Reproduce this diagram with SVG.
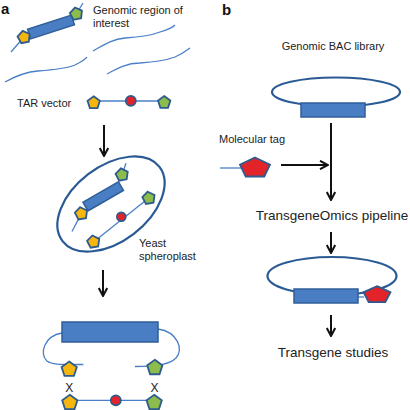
<svg xmlns="http://www.w3.org/2000/svg" xmlns:xlink="http://www.w3.org/1999/xlink" width="410" height="410" viewBox="0 0 410 410">
<style>
text{font-family:"Liberation Sans",Arial,sans-serif;fill:#222}
.lbl{font-size:11px}
.big{font-size:13.5px}
.panel{font-size:15px;font-weight:bold;fill:#111}
.dna{fill:none;stroke:#4a7fc7;stroke-width:1.3}
.ring{fill:none;stroke:#2a5a94;stroke-width:2.2}
.gene{fill:#4a7ec4;stroke:#2f5f98;stroke-width:1.5}
.yel{fill:#f6b60d;stroke:#2d5b8e;stroke-width:1.8}
.grn{fill:#8cbc4c;stroke:#2d5b8e;stroke-width:1.8}
.red{fill:#e2232a;stroke:#2d5b8e;stroke-width:1.8}
.arr{fill:none;stroke:#111;stroke-width:2;marker-end:url(#ah)}
</style>
<defs>
<marker id="ah" markerUnits="userSpaceOnUse" viewBox="0 0 10 10" refX="9" refY="5" markerWidth="10" markerHeight="10" orient="auto">
<path d="M1,0.8 L9,5 L1,9.2" fill="none" stroke="#111" stroke-width="2"/>
</marker>
<polygon id="p6" points="0,-6.5 6.18,-2.01 3.82,5.26 -3.82,5.26 -6.18,-2.01"/>
<polygon id="p8" points="0,-8 7.61,-2.47 4.7,6.47 -4.7,6.47 -7.61,-2.47"/>
<polygon id="pr1" points="0,-10.5 15,-3.24 9.27,8.49 -9.27,8.49 -15,-3.24"/>
<polygon id="pr2" points="0,-8.84 13.5,-2.73 8.34,7.15 -8.34,7.15 -13.5,-2.73"/>
</defs>

<text class="panel" x="1" y="14">a</text>
<text class="panel" x="222" y="15">b</text>

<g id="genomic-region">
<path class="dna" d="M11,52 L24,37"/>
<path class="dna" d="M77,13 L83,3"/>
<rect class="gene" x="-23" y="-5" width="46" height="10" transform="translate(51,27) rotate(-18)"/>
<use href="#p6" class="yel" transform="translate(24,37.3) rotate(-12)"/>
<use href="#p6" class="grn" transform="translate(76.3,13.9) rotate(-12)"/>
<text class="lbl" x="93" y="14">Genomic region of</text>
<text class="lbl" x="93" y="27">interest</text>
<path class="dna" d="M93,51 C102,46 112,39 125,38 C140,37 150,36 160,32 C167,30 172,28 175,25"/>
<path class="dna" d="M5,82 C14,77 24,72 38,71 C52,70 65,69 75,65 C81,62 85,60 87,57"/>
<path class="dna" d="M107,74 C116,69 126,63 140,63 C155,62 167,60 175,57 C182,54 186,51 190,48"/>
</g>

<g id="tar-vector">
<text class="lbl" x="17" y="106.5">TAR vector</text>
<path class="dna" d="M93,101 L164,101"/>
<use href="#p6" class="yel" transform="translate(93.7,102.8)"/>
<circle class="red" cx="130.8" cy="100.8" r="5"/>
<use href="#p6" class="grn" transform="translate(164.2,102.6)"/>
</g>

<g id="yeast-spheroplast">
<ellipse class="ring" cx="111" cy="204" rx="61" ry="37.5" transform="rotate(-37.4 111 204)"/>
<path class="dna" d="M72,231.5 L81.3,213.6"/>
<path class="dna" d="M122,174.8 L126,163.3"/>
<rect class="gene" x="-20.5" y="-5" width="41" height="10" transform="translate(103.2,196.3) rotate(-30)"/>
<use href="#p6" class="yel" transform="translate(81.3,213.6) rotate(-10)"/>
<use href="#p6" class="grn" transform="translate(122,174.8) rotate(-10)"/>
<path class="dna" d="M93.5,241.9 L148.8,198.1"/>
<use href="#p6" class="yel" transform="translate(93.5,241.9) rotate(-10)"/>
<circle class="red" cx="121.3" cy="216.7" r="4.4"/>
<use href="#p6" class="grn" transform="translate(148.8,198.1) rotate(-10)"/>
<text class="lbl" x="139" y="246.7">Yeast</text>
<text class="lbl" x="139" y="259.5">spheroplast</text>
</g>

<g id="recombination">
<path class="dna" d="M62,333 C44,336 39,354 47,361 C52,365 62,364.5 83.3,364.5"/>
<path class="dna" d="M158,329 C178,332 184,350 176,358 C170,364 160,366 135,366.5"/>
<rect class="gene" x="62" y="322" width="96" height="20"/>
<use href="#p8" class="yel" transform="translate(69.2,369.5)"/>
<use href="#p8" class="grn" transform="translate(154.8,367.8)"/>
<text class="lbl" x="69.2" y="392" text-anchor="middle" style="font-size:12px">X</text>
<text class="lbl" x="154.5" y="392" text-anchor="middle" style="font-size:12px">X</text>
<path class="dna" d="M70,400.3 L154,400.3"/>
<use href="#p8" class="yel" transform="translate(69.8,402.8)"/>
<circle class="red" cx="115.8" cy="400.3" r="5"/>
<use href="#p8" class="grn" transform="translate(154.2,402.8)"/>
</g>

<g id="bac-library">
<text class="lbl" x="333" y="50" text-anchor="middle">Genomic BAC library</text>
<ellipse class="ring" cx="336" cy="92" rx="64" ry="14.5"/>
<rect class="gene" x="301" y="103" width="64" height="14"/>
</g>

<g id="molecular-tag">
<text class="lbl" x="219" y="143">Molecular tag</text>
<path class="dna" d="M220,168 L241,168"/>
<use href="#pr1" class="red" transform="translate(255,168)"/>
</g>

<g id="pipeline">
<text class="big" x="332" y="220" text-anchor="middle">TransgeneOmics pipeline</text>
</g>

<g id="tagged-bac">
<ellipse class="ring" cx="332" cy="276" rx="64.5" ry="19"/>
<path class="dna" d="M358,297 L364,297"/>
<rect class="gene" x="294" y="289" width="64" height="14"/>
<use href="#pr2" class="red" transform="translate(377,295)"/>
</g>

<g id="transgene-studies">
<text class="big" x="333" y="357.3" text-anchor="middle">Transgene studies</text>
</g>

<g id="connectors">
<path class="arr" d="M104,125 L104,156"/>
<path class="arr" d="M103,270 L103,296"/>
<path class="arr" d="M331,123 L331,200"/>
<path class="arr" d="M281,165 L328,165"/>
<path class="arr" d="M331,232 L331,253"/>
<path class="arr" d="M331,315 L331,336"/>
</g>
</svg>
